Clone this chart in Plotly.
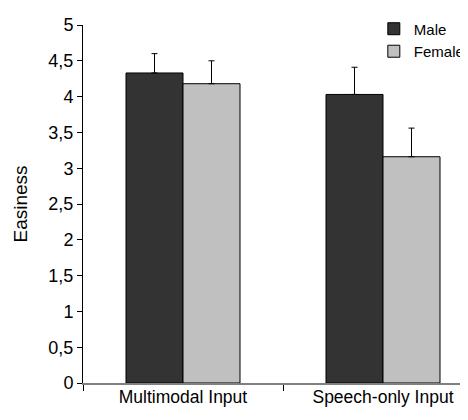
import plotly.graph_objects as go

categories = ["Multimodal Input", "Speech-only Input"]
male_values = [4.33, 4.03]
male_errors = [0.27, 0.38]
female_values = [4.18, 3.16]
female_errors = [0.32, 0.40]
ytick_vals = [0, 0.5, 1, 1.5, 2, 2.5, 3, 3.5, 4, 4.5, 5]
ytick_text = ["0", "0,5", "1", "1,5", "2", "2,5", "3", "3,5", "4", "4,5", "5"]

FONT = "Liberation Sans, Arial, sans-serif"

fig = go.Figure()
fig.add_trace(go.Bar(
    name="Male", x=categories, y=male_values,
    marker=dict(color="#333333", line=dict(color="#000000", width=1)),
    error_y=dict(type="data", symmetric=False, array=male_errors,
                 arrayminus=[0, 0], color="#000000", thickness=1, width=3),
))
fig.add_trace(go.Bar(
    name="Female", x=categories, y=female_values,
    marker=dict(color="#c0c0c0", line=dict(color="#000000", width=1)),
    error_y=dict(type="data", symmetric=False, array=female_errors,
                 arrayminus=[0, 0], color="#000000", thickness=1, width=3),
))

fig.update_layout(
    width=468, height=420,
    margin=dict(l=75, r=0, t=17, b=45),
    paper_bgcolor="white", plot_bgcolor="white",
    barmode="group", bargap=0.43, bargroupgap=0,
    font=dict(family=FONT, size=17, color="#000000"),
    showlegend=True,
    legend=dict(x=0.74, y=1.035, xanchor="left", yanchor="top",
                bgcolor="rgba(0,0,0,0)", font=dict(size=15, color="#000000"),
                itemwidth=30),
)
fig.update_xaxes(
    type="category", range=[-0.5, 1.465],
    showline=True, linecolor="#808080", linewidth=2,
    ticks="outside", tickson="boundaries", ticklen=6, tickcolor="#000000", tickwidth=1,
    showgrid=False, zeroline=False,
    tickfont=dict(size=17.5), ticklabelstandoff=-3,
)
fig.update_yaxes(
    range=[0, 5], tickvals=ytick_vals, ticktext=ytick_text,
    showline=True, linecolor="#000000", linewidth=1,
    ticks="outside", ticklen=5, tickcolor="#000000", tickwidth=1,
    showgrid=False, zeroline=False,
    tickfont=dict(size=18), ticklabelstandoff=0,
    title=dict(text="Easiness", font=dict(size=19), standoff=15),
)

fig.write_html("out.html")
